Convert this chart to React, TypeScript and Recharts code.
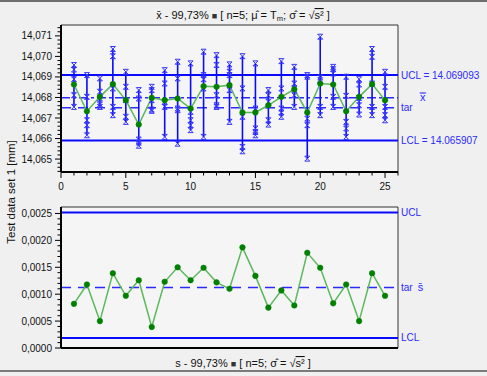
import React from "react";
import {
  ComposedChart,
  Line,
  Scatter,
  XAxis,
  YAxis,
  ReferenceLine,
  ReferenceArea,
  ErrorBar,
} from "recharts";

// subgroup numbers
const subgroups = [
  1, 2, 3, 4, 5, 6, 7, 8, 9, 10, 11, 12, 13, 14, 15, 16, 17, 18, 19, 20, 21, 22, 23, 24, 25,
];

// the 5 single values of every subgroup (mm)
const samples: number[][] = [
  [14.06958, 14.06936, 14.06889, 14.06811, 14.06754],
  [14.06909, 14.06803, 14.06689, 14.06665, 14.06616],
  [14.06893, 14.06828, 14.06795, 14.06766, 14.06754],
  [14.07036, 14.07001, 14.06844, 14.06754, 14.06714],
  [14.06925, 14.06852, 14.06787, 14.06706, 14.06681],
  [14.06836, 14.06795, 14.06595, 14.0658, 14.06565],
  [14.06852, 14.06836, 14.06787, 14.06741, 14.06735],
  [14.06933, 14.06868, 14.06779, 14.06754, 14.06608],
  [14.06974, 14.06893, 14.06746, 14.06738, 14.06575],
  [14.06966, 14.0673, 14.06689, 14.06665, 14.06641],
  [14.07023, 14.06909, 14.06889, 14.06844, 14.06608],
  [14.07006, 14.06958, 14.06811, 14.06762, 14.06754],
  [14.06961, 14.06925, 14.06909, 14.06836, 14.06681],
  [14.07001, 14.06844, 14.06706, 14.06559, 14.06538],
  [14.06966, 14.06746, 14.06649, 14.06632, 14.06616],
  [14.06836, 14.06811, 14.06779, 14.06689, 14.06668],
  [14.06977, 14.06844, 14.06746, 14.06727, 14.06706],
  [14.06949, 14.06868, 14.06844, 14.06811, 14.06754],
  [14.06909, 14.06901, 14.06697, 14.06665, 14.06502],
  [14.07096, 14.06897, 14.06884, 14.06754, 14.06714],
  [14.06949, 14.06938, 14.06917, 14.06803, 14.06754],
  [14.06901, 14.06808, 14.06681, 14.06649, 14.06608],
  [14.06889, 14.06863, 14.06798, 14.06762, 14.06717],
  [14.07036, 14.06998, 14.06868, 14.06754, 14.06714],
  [14.06925, 14.06852, 14.06754, 14.06714, 14.06689],
];

// subgroup means (x-bar)
const means = [
  14.06863, 14.06733, 14.06803, 14.06865, 14.06787, 14.06668, 14.06798, 14.06787, 14.06795,
  14.06746, 14.06855, 14.06852, 14.0686, 14.06727, 14.06727, 14.06762, 14.06803, 14.0684,
  14.06727, 14.06868, 14.06863, 14.06733, 14.06803, 14.06865, 14.06787,
];

// subgroup standard deviations
const sdevs = [
  0.00082, 0.00118, 0.0005, 0.00139, 0.00097, 0.00126, 0.00039, 0.00123, 0.0015, 0.00126,
  0.00149, 0.00122, 0.0011, 0.00187, 0.00134, 0.00075, 0.00107, 0.00079, 0.00177, 0.00149,
  0.00083, 0.00118, 0.0005, 0.00139, 0.00097,
];

const xbarLines = { ucl: 14.069093, lcl: 14.065907, center: 14.06799, target: 14.0675 };
const sLines = { ucl: 0.00252, lcl: 0.000186, target: 0.001123 };

const xbarDomain = [14.06437, 14.07153];
const sDomain = [0, 0.00262];
const xDomain = [0, 26];

const xbarTickLabels = [14.065, 14.066, 14.067, 14.068, 14.069, 14.07, 14.071];
const sTickLabels = [0, 0.0005, 0.001, 0.0015, 0.002, 0.0025];
const xTickLabels = [0, 5, 10, 15, 20, 25];

const xbarMinor = Array.from({ length: 36 }, (_, i) => +(14.0644 + i * 0.0002).toFixed(4));
const sMinor = Array.from({ length: 26 }, (_, i) => +(i * 0.0001).toFixed(4));
const xMinor = Array.from({ length: 27 }, (_, i) => i);

const BLUE = "#0a0aff";
const LABEL_BLUE = "#2a2aff";
const FONT = "'Liberation Sans', Arial, sans-serif";

const rows = subgroups.map((g, i) => {
  const lo = Math.min(...samples[i]);
  const hi = Math.max(...samples[i]);
  return { x: g, mean: means[i], s: sdevs[i], err: [means[i] - lo, hi - means[i]] };
});

const points = subgroups.flatMap((g, i) => samples[i].map((v) => ({ x: g, y: v })));

const isMajor = (v: number, labels: number[]) => labels.some((t) => Math.abs(t - v) < 1e-7);

function makeYTick(labels: number[], digits: number) {
  return (props: any) => {
    const { x, y, payload } = props;
    const major = isMajor(payload.value, labels);
    return (
      <g>
        <line x1={x - (major ? 6 : 3.5)} x2={x} y1={y} y2={y} stroke="#000" strokeWidth={1} />
        {major && (
          <text x={x - 9} y={y} dy={3.5} textAnchor="end" fontSize={10} fill="#111">
            {payload.value.toFixed(digits).replace(".", ",")}
          </text>
        )}
      </g>
    );
  };
}

function XTick(props: any) {
  const { x, y, payload } = props;
  const major = isMajor(payload.value, xTickLabels);
  return (
    <g>
      <line x1={x} x2={x} y1={y} y2={y + (major ? 6 : 3.5)} stroke="#000" strokeWidth={1} />
      {major && (
        <text x={x} y={y + 18} textAnchor="middle" fontSize={10} fill="#111">
          {payload.value}
        </text>
      )}
    </g>
  );
}

function rightLabel(text: string, sym?: string, symDx = 0, dy = 3.5) {
  return (props: any) => {
    const vb = props.viewBox;
    return (
      <text x={vb.x + vb.width + 3} y={vb.y} dy={dy} fontSize={10} fill={LABEL_BLUE}>
        {text}
        {sym && (
          <tspan dx={symDx} fontSize={11}>
            {sym}
          </tspan>
        )}
      </text>
    );
  };
}

function Hourglass(props: any) {
  const { cx, cy } = props;
  const r = 2.5;
  return (
    <path
      d={`M${cx - r},${cy - r}H${cx + r}L${cx - r},${cy + r}H${cx + r}Z`}
      fill="none"
      stroke="#3535ff"
      strokeWidth={1}
    />
  );
}

export default function App() {
  return (
    <div
      style={{
        position: "absolute",
        left: 0,
        top: 0,
        width: 487,
        height: 376,
        background: "#f0f0f0",
        fontFamily: FONT,
        overflow: "hidden",
      }}
    >
      <div style={{ position: "absolute", left: 0, top: 0 }}>
        <ComposedChart
          width={487}
          height={195}
          data={rows}
          margin={{ top: 25, right: 89, left: 0, bottom: 0 }}
        >
          <XAxis
            type="number"
            dataKey="x"
            domain={xDomain}
            ticks={xMinor}
            interval={0}
            tickSize={0}
            tickMargin={0}
            tickLine={false}
            tick={XTick}
            height={23}
            axisLine={{ stroke: "#000", strokeWidth: 2 }}
            allowDataOverflow
          />
          <YAxis
            type="number"
            domain={xbarDomain}
            ticks={xbarMinor}
            interval={0}
            width={61}
            tickSize={0}
            tickMargin={0}
            tickLine={false}
            tick={makeYTick(xbarTickLabels, 3)}
            axisLine={{ stroke: "#000", strokeWidth: 2 }}
            allowDataOverflow
          />
          <ReferenceArea
            x1={xDomain[0]}
            x2={xDomain[1]}
            y1={xbarDomain[0]}
            y2={xbarDomain[1]}
            fill="#f5f5f5"
            fillOpacity={1}
            stroke="#333"
            strokeWidth={1}
          />
          <ReferenceLine
            y={xbarLines.ucl}
            stroke={BLUE}
            strokeWidth={2}
            label={rightLabel("UCL = 14.069093")}
          />
          <ReferenceLine
            y={xbarLines.lcl}
            stroke={BLUE}
            strokeWidth={2}
            label={rightLabel("LCL = 14.065907")}
          />
          <ReferenceLine
            y={xbarLines.center}
            stroke="#2a2aff"
            strokeWidth={1.5}
            strokeDasharray="9 3 3 3"
            label={rightLabel("", "x\u033F", 19, 3)}
          />
          <ReferenceLine
            y={xbarLines.target}
            stroke="#2a2aff"
            strokeWidth={1.5}
            strokeDasharray="10 7"
            label={rightLabel("tar")}
          />
          <Scatter dataKey="mean" shape={() => <g />} isAnimationActive={false}>
            <ErrorBar dataKey="err" direction="y" width={0} stroke={BLUE} strokeWidth={1.6} />
          </Scatter>
          <Scatter
            data={points}
            dataKey="y"
            shape={Hourglass}
            isAnimationActive={false}
          />
          <Line
            dataKey="mean"
            stroke="#5cb85c"
            strokeWidth={1.5}
            dot={{ r: 2.8, fill: "#008000", stroke: "#008000", strokeWidth: 0.5 }}
            isAnimationActive={false}
          />
        </ComposedChart>
      </div>

      <div style={{ position: "absolute", left: 0, top: 195 }}>
        <ComposedChart
          width={487}
          height={181}
          data={rows}
          margin={{ top: 12, right: 89, left: 0, bottom: 28 }}
        >
          <XAxis type="number" dataKey="x" domain={xDomain} hide allowDataOverflow />
          <YAxis
            type="number"
            domain={sDomain}
            ticks={sMinor}
            interval={0}
            width={61}
            tickSize={0}
            tickMargin={0}
            tickLine={false}
            tick={makeYTick(sTickLabels, 4)}
            axisLine={{ stroke: "#000", strokeWidth: 2 }}
            allowDataOverflow
          />
          <ReferenceArea
            x1={xDomain[0]}
            x2={xDomain[1]}
            y1={sDomain[0]}
            y2={sDomain[1]}
            fill="#f5f5f5"
            fillOpacity={1}
            stroke="#333"
            strokeWidth={1}
          />
          <ReferenceLine y={sDomain[0]} stroke="#000" strokeWidth={2} />
          <ReferenceLine y={sLines.ucl} stroke={BLUE} strokeWidth={2} label={rightLabel("UCL")} />
          <ReferenceLine y={sLines.lcl} stroke={BLUE} strokeWidth={2} label={rightLabel("LCL")} />
          <ReferenceLine
            y={sLines.target}
            stroke="#2a2aff"
            strokeWidth={1.5}
            strokeDasharray="10 7"
            label={rightLabel("tar", "s\u0304", 5)}
          />
          <Line
            dataKey="s"
            stroke="#5cb85c"
            strokeWidth={1.5}
            dot={{ r: 2.8, fill: "#008000", stroke: "#008000", strokeWidth: 0.5 }}
            isAnimationActive={false}
          />
        </ComposedChart>
      </div>

      <svg
        width={487}
        height={376}
        style={{ position: "absolute", left: 0, top: 0, pointerEvents: "none" }}
      >
        <line x1={0} x2={487} y1={1} y2={1} stroke="#444" strokeWidth={1.5} />
        <line x1={0} x2={487} y1={371} y2={371} stroke="#555" strokeWidth={1.5} />
        <text x={243} y={19} textAnchor="middle" fontSize={11} fill="#111">
          <tspan>{"x\u0304 -  99,73% "}</tspan>
          <tspan fontSize={9} fill="#333">{"\u25A0"}</tspan>
          <tspan>{" [ n=5; \u03BC\u0302 = T"}</tspan>
          <tspan fontSize={7.5} dy={2}>m</tspan>
          <tspan dy={-2}>{"; \u03C3\u0302 = \u221A"}</tspan>
          <tspan textDecoration="overline">{"s\u00B2"}</tspan>
          <tspan>{" ]"}</tspan>
        </text>
        <text x={243} y={367} textAnchor="middle" fontSize={11} fill="#111">
          <tspan>{"s -  99,73% "}</tspan>
          <tspan fontSize={9} fill="#333">{"\u25A0"}</tspan>
          <tspan>{" [ n=5; \u03C3\u0302 = \u221A"}</tspan>
          <tspan textDecoration="overline">{"s\u00B2"}</tspan>
          <tspan>{" ]"}</tspan>
        </text>
        <text
          x={-192}
          y={15}
          transform="rotate(-90)"
          textAnchor="middle"
          fontSize={11.5}
          fill="#111"
        >
          Test data set 1 [mm]
        </text>
      </svg>
    </div>
  );
}
